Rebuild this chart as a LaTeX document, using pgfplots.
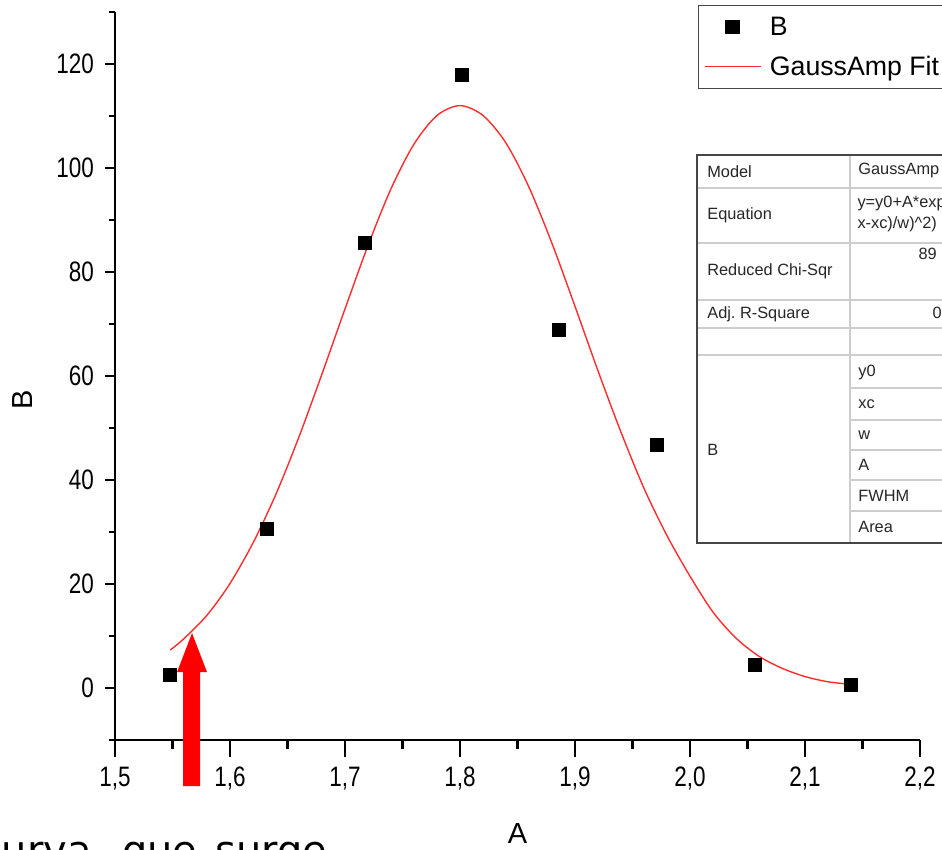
\documentclass[border=0pt]{standalone}
\usepackage{fontspec}
\setmainfont{Liberation Sans}
\newfontfamily\tickfont[FakeStretch=0.8]{Liberation Sans}
\newfontfamily\slidefont{DejaVu Sans}
\usepackage{pgfplots}
\pgfplotsset{compat=1.18}

\definecolor{fitred}{RGB}{255,45,45}
\definecolor{tabframe}{RGB}{70,70,70}
\definecolor{tabgrid}{RGB}{205,205,205}

\pgfplotsset{
  frame geom/.style={
    at={(2.30cm,-14.80cm)}, anchor=south west,
    scale only axis, width=16.1cm, height=14.56cm,
    xmin=1.5, xmax=2.2, ymin=-10, ymax=130,
    axis line style={line width=1.4pt, -},
    tick align=outside,
    tick style={line width=1.4pt, black},
    tick label style={font=\tickfont\fontsize{16}{19}\selectfont},
    /pgf/number format/assume math mode=true,
    label style={font=\fontsize{16.5}{19}\selectfont},
  },
}

\begin{document}
\begin{tikzpicture}
% page = 942 x 850 px, 1 px = 0.02 cm
\path[use as bounding box] (0,0) rectangle (18.84,-17);
\clip (0,0) rectangle (18.84,-17);

% y axis (shorter ticks)
\begin{axis}[
  frame geom,
  axis x line=none, axis y line*=left,
  ytick={0,20,40,60,80,100,120},
  minor ytick={-10,10,30,50,70,90,110,130},
  major tick length=0.2cm, minor tick length=0.11cm,
  yticklabel style={xshift=-0.1cm},
  ylabel={B},
  ylabel style={at={(axis description cs:-0.102,0.467)}, anchor=base},
]
\end{axis}

% x axis and data
\begin{axis}[
  frame geom,
  axis x line*=bottom, axis y line=none,
  xtick={1.5,1.6,1.7,1.8,1.9,2.0,2.1,2.2},
  xticklabels={{1,5},{1,6},{1,7},{1,8},{1,9},{2,0},{2,1},{2,2}},
  minor xtick={1.55,1.65,1.75,1.85,1.95,2.05,2.15},
  major tick length=0.34cm, minor tick length=0.18cm,
  xticklabel style={yshift=-0.08cm},
  xlabel={A},
  xlabel style={at={(axis description cs:0.5,-0.1415)}, anchor=base},
  legend style={at={(axis description cs:0.7242,1.0096)}, anchor=north west,
    draw=tabframe, line width=0.8pt, font=\fontsize{15.2}{18}\selectfont,
    row sep=0.22cm, column sep=0.1cm, inner ysep=0.15cm, cells={anchor=west}},
  legend image code/.code={\draw[mark repeat=2,mark phase=2,#1]
    plot coordinates {(0cm,0cm) (0.56cm,0cm) (1.12cm,0cm)};},
]
\addplot[only marks, mark=square*, mark size=3.7pt, black] coordinates {
  (1.548,2.5) (1.632,30.6) (1.717,85.6) (1.802,117.9)
  (1.886,68.8) (1.971,46.7) (2.056,4.4) (2.140,0.6)
};
\addlegendentry{B}
\addplot[fitred, line width=0.8pt, smooth, no markers] coordinates {
  (1.548,7.3) (1.56,9.5) (1.58,14.0) (1.60,20.1) (1.62,27.9) (1.64,37.3)
  (1.66,48.3) (1.68,60.4) (1.70,72.9) (1.72,85.1) (1.74,96.0) (1.76,104.6)
  (1.78,110.1) (1.80,112.0) (1.82,110.1) (1.84,104.8) (1.86,96.3)
  (1.88,85.5) (1.90,73.4) (1.92,61.0) (1.94,49.2) (1.96,38.4) (1.98,29.3)
  (2.00,21.5) (2.02,14.6) (2.04,9.6) (2.06,6.1) (2.08,3.8) (2.10,2.2)
  (2.12,1.2) (2.14,0.7)
};
\addlegendentry{GaussAmp Fit}
\end{axis}

% annotations in pixel coordinates
\begin{scope}[x=0.02cm, y=-0.02cm]
  % fit report table
  \begin{scope}[font=\fontsize{9.3}{11}\selectfont, text=black!85]
    \draw[tabgrid, line width=0.8pt]
      (697,188) -- (960,188) (697,243) -- (960,243) (697,300) -- (960,300)
      (697,328) -- (960,328) (697,355) -- (960,355)
      (850,388) -- (960,388) (850,420) -- (960,420) (850,450) -- (960,450)
      (850,480) -- (960,480) (850,511) -- (960,511)
      (850,155) -- (850,543);
    \draw[tabframe, line width=0.9pt] (960,155) -- (697,155) -- (697,543) -- (960,543);
    \node[anchor=west] at (701,172) {Model};
    \node[anchor=west] at (701,215) {Equation};
    \node[anchor=west] at (701,271) {Reduced Chi-Sqr};
    \node[anchor=west] at (701,314) {Adj.\ R-Square};
    \node[anchor=west] at (701,450) {B};
    \node[anchor=west] at (852,170) {GaussAmp};
    \node[anchor=west, align=left, inner sep=0pt] at (857,214)
      {y=y0+A*exp(-0.5*((\\[1pt]x-xc)/w)\textasciicircum 2)};
    \node[anchor=north west, inner sep=0pt] at (918,248) {89};
    \node[anchor=west, inner sep=0pt] at (932,313) {0};
    \node[anchor=west] at (852,372) {y0};
    \node[anchor=west] at (852,404) {xc};
    \node[anchor=west] at (852,435) {w};
    \node[anchor=west] at (852,465) {A};
    \node[anchor=west] at (852,496) {FWHM};
    \node[anchor=west] at (852,527) {Area};
  \end{scope}
  % red arrow
  \fill[red] (183,786) -- (200,786) -- (200,672) -- (207,672) -- (192,633)
    -- (177,672) -- (183,672) -- cycle;
  % slide text below
  \begin{scope}[font=\slidefont\fontsize{22.7}{27}\selectfont]
    \node[anchor=base east, inner sep=0pt] at (92,864) {Curva};
    \node[anchor=base west, inner sep=0pt] at (122,864) {que};
    \node[anchor=base west, inner sep=0pt] at (215,864) {surge};
  \end{scope}
\end{scope}
\end{tikzpicture}
\end{document}
